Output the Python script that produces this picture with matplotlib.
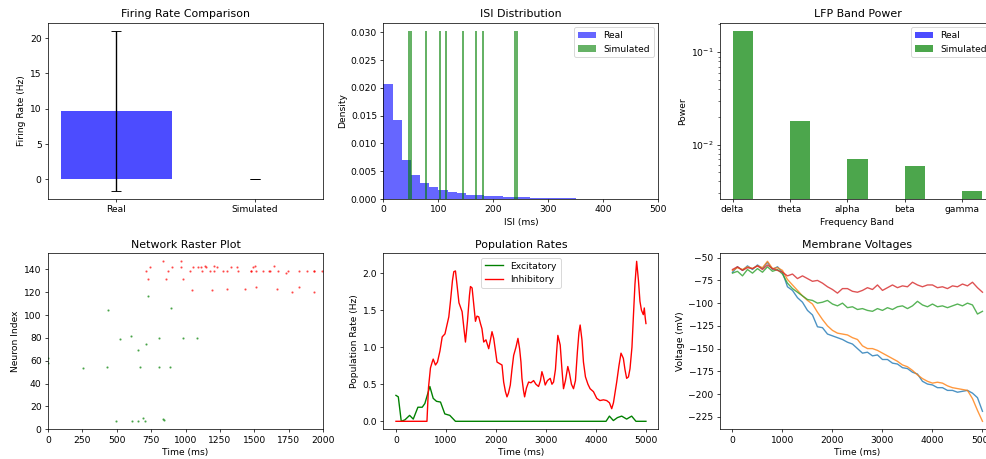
#!/usr/bin/env python3
# -*- coding: utf-8 -*-

"""
Comparison of real and simulated network activity (six panel overview).
"""

import numpy as np
import matplotlib
matplotlib.use("Agg")
import matplotlib.pyplot as plt

# Firing rate comparison
rate_labels = ["Real", "Simulated"]
rate_means = [9.7, 0.0]
rate_errs = [11.35, 0.0]

# ISI histogram (density values per bin)
isi_edges = np.linspace(0, 500, 31)
real_isi_density = [0.0206, 0.0142, 0.0070, 0.0043, 0.0029, 0.0022, 0.0016, 0.0013,
                    0.0010, 0.0008, 0.0007, 0.0005, 0.0005, 0.0004, 0.0003, 0.0003,
                    0.0002, 0.0002, 0.0001, 0.0001, 0.0001, 0, 0, 0, 0, 0, 0, 0, 0, 0]
sim_isi_left = [45.5, 49.1, 75.8, 101.6, 111.6, 142.6, 165.6, 178.8, 238.2, 241.8]
sim_isi_width = 3.6
sim_isi_density = [0.0302] * 10

# LFP band power
bands = ["delta", "theta", "alpha", "beta", "gamma"]
real_power = [0, 0, 0, 0, 0]
sim_power = [0.171, 0.0182, 0.0070, 0.00583, 0.00313]

# Raster plot spikes (time ms, neuron index)
exc_t = [0, 2, 255, 430, 437, 493, 527, 600, 612, 651, 656, 668, 688, 705, 712, 727,
         809, 809, 833, 847, 887, 897, 982, 1084]
exc_n = [62, 58, 53.4, 54.2, 104.4, 7.3, 79, 81.7, 7.3, 69, 7.3, 54.2, 10.2, 7.3, 74.4, 117,
         54.2, 80.2, 9, 8, 54.2, 105.9, 80.2, 80.2]
inh_t = [712, 724, 744, 836, 858, 870, 904, 967, 967, 982, 1033, 1047, 1057, 1091, 1115,
         1120, 1145, 1150, 1179, 1193, 1208, 1210, 1230, 1269, 1300, 1303, 1332, 1378,
         1383, 1429, 1473, 1477, 1490, 1507, 1514, 1516, 1567, 1606, 1611, 1640, 1667,
         1672, 1730, 1742, 1776, 1822, 1822, 1883, 1932, 1932, 1937, 1993]
inh_n = [138.8, 131.2, 141.7, 147.3, 131.2, 138.8, 141.7, 147.3, 141.7, 131.2, 138.8,
         121.6, 141.7, 141.7, 141.7, 138.8, 142.9, 141.7, 138.8, 121.6, 142.9, 138.8,
         141.7, 138.2, 138.8, 123.1, 141.7, 141.7, 138.8, 123.1, 138.8, 138.2, 141.7,
         142.9, 138.8, 124.3, 138.8, 138.2, 138.8, 142.9, 123.1, 138.8, 137.1, 138.8,
         119.9, 124.3, 138.8, 138.8, 119.9, 138.8, 138.2, 138.8]

# Population rates
inh_rate_t = [0, 620, 650, 690, 725, 745, 790, 830, 880, 925, 980, 1057, 1090, 1130, 1157,
              1190, 1220, 1260, 1323, 1360, 1390, 1430, 1470, 1490, 1523, 1560, 1590, 1620,
              1656, 1690, 1720, 1755, 1800, 1855, 1890, 1921, 1955, 1990, 2021, 2070, 2121,
              2154, 2190, 2221, 2250, 2287, 2320, 2354, 2400, 2440, 2473, 2500, 2520, 2550,
              2573, 2610, 2653, 2700, 2753, 2800, 2852, 2890, 2919, 2950, 2985, 3030, 3085,
              3120, 3152, 3190, 3215, 3238, 3260, 3285, 3320, 3351, 3390, 3437, 3470, 3510,
              3551, 3590, 3630, 3660, 3684, 3720, 3750, 3790, 3840, 3883, 3950, 4016, 4080,
              4150, 4215, 4270, 4315, 4350, 4415, 4460, 4501, 4548, 4580, 4614, 4650, 4681,
              4720, 4747, 4780, 4814, 4850, 4880, 4910, 4947, 4967, 4985, 5000]
inh_rate = [0, 0, 0.45, 0.72, 0.80, 0.84, 0.76, 0.80, 0.95, 1.14, 1.18, 1.41, 1.62, 1.90,
            2.02, 2.03, 1.85, 1.60, 1.48, 1.25, 1.07, 1.35, 1.70, 1.82, 1.80, 1.55, 1.35,
            1.42, 1.41, 1.32, 1.25, 1.07, 1.10, 0.98, 1.10, 1.21, 1.12, 0.95, 0.80, 0.78,
            0.76, 0.53, 0.40, 0.33, 0.38, 0.49, 0.70, 0.89, 1.00, 1.12, 0.98, 0.80, 0.58,
            0.42, 0.33, 0.45, 0.53, 0.52, 0.55, 0.50, 0.47, 0.55, 0.67, 0.60, 0.49, 0.55,
            0.58, 0.50, 0.53, 0.70, 0.95, 1.16, 1.10, 1.03, 0.70, 0.44, 0.55, 0.74, 0.65,
            0.50, 0.44, 0.55, 0.95, 1.20, 1.30, 1.10, 0.80, 0.60, 0.50, 0.44, 0.40, 0.31,
            0.28, 0.29, 0.28, 0.25, 0.17, 0.25, 0.53, 0.75, 0.92, 0.85, 0.70, 0.58, 0.60,
            0.71, 1.00, 1.39, 1.85, 2.16, 1.90, 1.62, 1.50, 1.44, 1.53, 1.40, 1.32]
exc_rate_t = [0, 47, 106, 180, 273, 346, 439, 525, 578, 678, 745, 811, 891, 977, 1077,
              1190, 4202, 4269, 4348, 4430, 4515, 4614, 4714, 4800, 5000]
exc_rate = [0.35, 0.33, 0, 0.02, 0.08, 0.03, 0.19, 0.19, 0.24, 0.47, 0.31, 0.27, 0.26,
            0.10, 0.08, 0, 0, 0.07, 0.01, 0.05, 0.07, 0.03, 0.07, 0, 0]

# Membrane voltages, sampled every 100 ms
volt_t = np.arange(0, 5001, 100)
volt_1 = [-66, -60, -64, -59, -63, -58, -62, -55, -63, -60, -66, -82, -86, -94, -99, -108,
          -113, -126, -127, -134, -136, -138, -140, -143, -145, -150, -155, -154, -158,
          -157, -162, -162, -166, -167, -171, -172, -176, -178, -186, -189, -190, -193,
          -193, -196, -196, -198, -197, -196, -199, -204, -219]
volt_2 = [-64, -61, -63, -60, -62, -59, -61, -54, -62, -61, -64, -74, -80, -86, -92, -97,
          -101, -110, -118, -125, -130, -133, -134, -135, -138, -140, -147, -150, -150,
          -152, -155, -158, -161, -164, -168, -170, -174, -179, -183, -186, -188, -187,
          -188, -191, -193, -194, -195, -196, -205, -218, -230]
volt_3 = [-67, -65, -70, -63, -67, -62, -66, -60, -65, -63, -68, -78, -84, -88, -92, -96,
          -97, -100, -99, -97, -101, -103, -100, -105, -104, -107, -106, -108, -109, -106,
          -108, -105, -107, -104, -103, -106, -103, -98, -102, -104, -101, -104, -103,
          -105, -103, -101, -103, -100, -102, -112, -109]
volt_4 = [-63, -60, -64, -61, -62, -59, -63, -58, -62, -64, -66, -70, -68, -73, -70, -73,
          -76, -75, -78, -82, -85, -89, -84, -84, -87, -88, -86, -83, -85, -80, -86, -83,
          -80, -83, -81, -82, -77, -80, -82, -80, -80, -83, -82, -84, -81, -82, -79, -81,
          -77, -83, -88]


def plot_firing_rates(ax):
    x = np.arange(len(rate_labels))
    ax.bar(x, rate_means, yerr=rate_errs, color=["blue", "green"], alpha=0.7, capsize=5)
    ax.set_xticks(x)
    ax.set_xticklabels(rate_labels)
    ax.set_ylabel("Firing Rate (Hz)")
    ax.set_title("Firing Rate Comparison")


def plot_isi(ax):
    ax.hist(isi_edges[:-1], bins=isi_edges, weights=real_isi_density,
            color="blue", alpha=0.6, label="Real")
    ax.bar(sim_isi_left, sim_isi_density, width=sim_isi_width, align="edge",
           color="green", alpha=0.6, label="Simulated")
    ax.set_xlim(0, 500)
    ax.set_xlabel("ISI (ms)")
    ax.set_ylabel("Density")
    ax.set_title("ISI Distribution")
    ax.legend(loc="upper right")


def plot_lfp(ax):
    x = np.arange(len(bands))
    width = 0.35
    ax.bar(x - width / 2, real_power, width, color="blue", alpha=0.7, label="Real")
    ax.bar(x + width / 2, sim_power, width, color="green", alpha=0.7, label="Simulated")
    ax.set_yscale("log")
    ax.set_ylim(0.00258, 0.209)
    ax.set_xlim(-0.22, 4.57)
    ax.set_xticks(x)
    ax.set_xticklabels(bands)
    ax.set_xlabel("Frequency Band")
    ax.set_ylabel("Power")
    ax.set_title("LFP Band Power")
    ax.legend(loc="upper right")


def plot_raster(ax):
    ax.plot(exc_t, exc_n, ".", color="green", markersize=3, alpha=0.5)
    ax.plot(inh_t, inh_n, ".", color="red", markersize=3, alpha=0.5)
    ax.set_xlim(0, 2000)
    ax.set_ylim(0, 154)
    ax.set_xlabel("Time (ms)")
    ax.set_ylabel("Neuron Index")
    ax.set_title("Network Raster Plot")


def plot_population(ax):
    ax.plot(exc_rate_t, exc_rate, color="green", label="Excitatory")
    ax.plot(inh_rate_t, inh_rate, color="red", label="Inhibitory")
    ax.set_xlabel("Time (ms)")
    ax.set_ylabel("Population Rate (Hz)")
    ax.set_title("Population Rates")
    ax.legend(loc="upper center")


def plot_voltages(ax):
    for trace in [volt_1, volt_2, volt_3, volt_4]:
        ax.plot(volt_t, trace, alpha=0.8)
    ax.set_xlabel("Time (ms)")
    ax.set_ylabel("Voltage (mV)")
    ax.set_title("Membrane Voltages")


if __name__ == "__main__":
    dpi = 65.733
    fig = plt.figure(figsize=(986 / dpi, 459 / dpi), dpi=dpi)

    # Axes positions in figure fractions (right column runs past the figure edge)
    lefts = [0.0487, 0.3889, 0.7302]
    width = 0.2789
    top_row = (0.5664, 0.3841)
    bottom_row = (0.0647, 0.3834)

    top_axes = [fig.add_axes([l, top_row[0], width, top_row[1]]) for l in lefts]
    bottom_axes = [fig.add_axes([l, bottom_row[0], width, bottom_row[1]]) for l in lefts]

    plot_firing_rates(top_axes[0])
    plot_isi(top_axes[1])
    plot_lfp(top_axes[2])
    plot_raster(bottom_axes[0])
    plot_population(bottom_axes[1])
    plot_voltages(bottom_axes[2])

    fig.savefig("out.png", dpi=dpi)
